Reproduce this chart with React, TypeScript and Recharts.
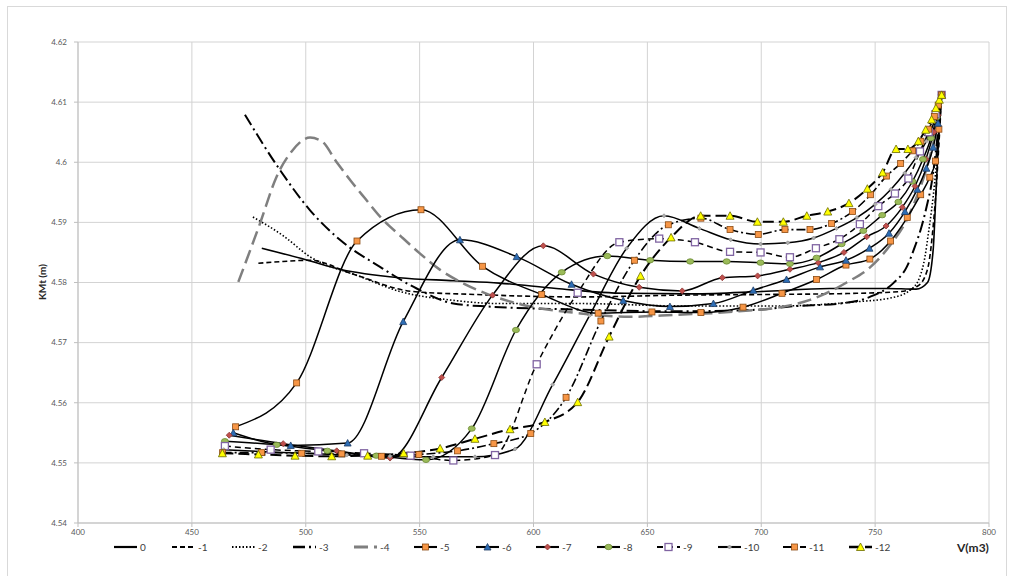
import React from "react";
import { LineChart, Line, XAxis, YAxis, CartesianGrid } from "recharts";

type Pt = [number, number];

// [V (m3), KMt (m)], one list per trim
const s0: Pt[] = [
  [480.7, 4.5857], [500, 4.5838], [515, 4.5822], [541, 4.5808], [565, 4.5803], [585, 4.5799],
  [610, 4.579], [640, 4.5782], [670, 4.5781], [700, 4.5785], [730, 4.579], [755, 4.579],
  [768, 4.5789], [773, 4.58], [775.5, 4.5855], [776.5, 4.593], [777.8, 4.6035], [779.2, 4.6112],
];
const s1: Pt[] = [
  [479.2, 4.5832], [490, 4.5835], [502, 4.5837], [520, 4.5815], [547, 4.5785], [575, 4.578],
  [620, 4.5776], [665, 4.5779], [700, 4.578], [742, 4.5782], [761, 4.5785], [768.2, 4.5793],
  [771.9, 4.581], [773.8, 4.5837], [775.2, 4.5882], [776.5, 4.594], [778, 4.603], [779.2, 4.6112],
];
const s2: Pt[] = [
  [476.8, 4.5909], [490, 4.5878], [501.8, 4.5843], [523.8, 4.581], [541.4, 4.5785], [563.3, 4.5771],
  [585, 4.5765], [620, 4.5765], [665, 4.5761], [708, 4.5761], [742, 4.5768], [756.5, 4.5774],
  [765.3, 4.5787], [769.7, 4.581], [771.9, 4.5843], [773.4, 4.5882], [774.8, 4.5921], [776.5, 4.598],
  [778, 4.605], [779.2, 4.6112],
];
const s3: Pt[] = [
  [473.3, 4.6079], [488.7, 4.5987], [501.9, 4.592], [515, 4.5871], [532.6, 4.5826], [548.7, 4.579],
  [564.8, 4.5765], [580, 4.576], [620, 4.5755], [660, 4.5752], [700, 4.5755], [712.6, 4.576],
  [734.6, 4.5765], [747.7, 4.5776], [758, 4.5799], [763.9, 4.5826], [767.5, 4.586], [770.4, 4.5893],
  [772.6, 4.5926], [775, 4.597], [777.3, 4.604], [779.2, 4.6112],
];
const s4: Pt[] = [
  [470.4, 4.5801], [479.9, 4.5898], [487.2, 4.5976], [493.8, 4.6018], [501.9, 4.6041], [507, 4.6035],
  [513.6, 4.6], [520, 4.5968], [526, 4.594], [533, 4.5908], [542, 4.5876], [549, 4.5852],
  [559, 4.5821], [570, 4.5797], [579, 4.5782], [595, 4.5763], [617.5, 4.575], [642.4, 4.5743],
  [661.4, 4.5746], [690, 4.5752], [710, 4.576], [721.4, 4.5771], [737.5, 4.58], [748, 4.5826],
  [757, 4.5864], [764, 4.5905], [769, 4.595], [773, 4.5995], [776, 4.604], [778, 4.608], [779.2, 4.6112],
];
const s5: Pt[] = [
  [469.2, 4.556], [496, 4.5633], [522.5, 4.5869], [550.6, 4.5921], [577.6, 4.5827], [603.6, 4.578],
  [628.4, 4.5749], [652, 4.5751], [673.5, 4.575], [692, 4.5759], [709.1, 4.5782], [724.3, 4.5805],
  [737.2, 4.5829], [747.7, 4.5839], [756.8, 4.5869], [764.1, 4.5908], [770, 4.5946], [774, 4.5975],
  [776.5, 4.6002], [778, 4.6055], [779.2, 4.6112],
];
const s6: Pt[] = [
  [468.2, 4.555], [493.4, 4.5529], [518.4, 4.5533], [542.8, 4.5735], [567.7, 4.5871], [592.6, 4.5843],
  [616.7, 4.5797], [639.4, 4.577], [659.9, 4.576], [679, 4.5765], [696.5, 4.5787], [711.1, 4.5805],
  [725.8, 4.5826], [737.2, 4.5837], [747.5, 4.5857], [756.1, 4.5882], [763.1, 4.5918], [768.5, 4.5955],
  [772.5, 4.599], [775.5, 4.6025], [777.6, 4.6065], [779.2, 4.6112],
];
const s7: Pt[] = [
  [466.4, 4.5546], [490.1, 4.5532], [513.6, 4.552], [537, 4.5508], [559.7, 4.5642], [582, 4.5779],
  [604.3, 4.5861], [626.3, 4.5814], [646.4, 4.5792], [665.3, 4.5786], [682.9, 4.5808], [698.4, 4.5811],
  [712.6, 4.5822], [725, 4.5833], [736.3, 4.585], [746.3, 4.5876], [754.8, 4.5894], [761.9, 4.5925],
  [767.5, 4.596], [772.3, 4.6005], [775.8, 4.605], [777.6, 4.6078], [779.2, 4.6112],
];
const s8: Pt[] = [
  [464.5, 4.5536], [487.2, 4.553], [509.5, 4.552], [531, 4.5512], [552.8, 4.5505], [572.9, 4.5557],
  [592.3, 4.5721], [612.4, 4.5817], [632.4, 4.5844], [651.2, 4.5837], [668.8, 4.5835], [684.8, 4.5835],
  [699.7, 4.5833], [712.6, 4.5831], [724.3, 4.5841], [735.3, 4.5864], [744.8, 4.5886], [753.1, 4.5912],
  [760.2, 4.5934], [766.4, 4.5968], [771, 4.6005], [774.5, 4.604], [777, 4.6075], [779.2, 4.6112],
];
const s9: Pt[] = [
  [464.5, 4.5528], [484.6, 4.5522], [505.5, 4.5519], [525.6, 4.5516], [546, 4.5512], [564.8, 4.5504],
  [583.1, 4.5513], [601.4, 4.5664], [619.4, 4.5783], [637.7, 4.5867], [655.2, 4.5873], [670.9, 4.5867],
  [686.3, 4.5851], [699.7, 4.585], [712.6, 4.5842], [724, 4.5857], [734.3, 4.5872], [743.3, 4.5897],
  [751.4, 4.5927], [758.7, 4.5948], [764.6, 4.5973], [769.7, 4.6018], [773.5, 4.605], [776.5, 4.608],
  [779.2, 4.6112],
];
const s10: Pt[] = [
  [464, 4.5522], [480, 4.5519], [499, 4.5516], [518, 4.5513], [537, 4.5511], [556, 4.551],
  [574.3, 4.551], [591.9, 4.5523], [608.4, 4.563], [624.6, 4.5745], [640.9, 4.5857], [657.3, 4.5911],
  [672.8, 4.589], [686.6, 4.5871], [699.7, 4.5864], [711.6, 4.5866], [723, 4.5874], [733, 4.589],
  [742, 4.5908], [750, 4.593], [757, 4.5955], [763, 4.5982], [768, 4.6008], [772.5, 4.6035],
  [776, 4.6068], [778.3, 4.6095], [779.2, 4.6112],
];
const s11: Pt[] = [
  [463.5, 4.5517], [480.6, 4.5517], [498.2, 4.5516], [515.8, 4.5515], [533.3, 4.5511], [549.7, 4.5514],
  [566.6, 4.552], [582.6, 4.5532], [598.8, 4.5549], [614.3, 4.5609], [629.6, 4.5736], [644.3, 4.5837],
  [659.2, 4.5896], [673.5, 4.5907], [686.3, 4.5888], [698.7, 4.588], [710.4, 4.5888], [721.4, 4.5888],
  [730.9, 4.5898], [740.1, 4.5918], [748, 4.5946], [755, 4.5977], [761.2, 4.5998], [766.4, 4.6019],
  [770.1, 4.6035], [773.5, 4.6055], [776, 4.6076], [777.7, 4.6095], [779.2, 4.6112],
];
const s12: Pt[] = [
  [463.4, 4.5516], [479.2, 4.5514], [495.3, 4.5512], [511.4, 4.5511], [527.2, 4.5512], [543, 4.5516],
  [559, 4.5524], [574.3, 4.554], [589.7, 4.5556], [605, 4.5568], [619.4, 4.5601], [633.2, 4.571],
  [647, 4.5811], [660.4, 4.5875], [673.4, 4.5911], [686.3, 4.5911], [698.3, 4.5901], [709.7, 4.5901],
  [720, 4.5911], [729.2, 4.5918], [738.5, 4.5932], [746.6, 4.5956], [753.3, 4.5983], [759.2, 4.6022],
  [764.4, 4.6022], [769, 4.6035], [772.2, 4.6054], [774.8, 4.6071], [776.7, 4.609], [778.2, 4.6104],
  [779.2, 4.6112],
];

const xTicks = [400, 450, 500, 550, 600, 650, 700, 750, 800];
const yTicks = [4.54, 4.55, 4.56, 4.57, 4.58, 4.59, 4.6, 4.61, 4.62];

type Marker = "none" | "square" | "openSquare" | "triangle" | "diamond" | "circle";

interface SeriesDef {
  name: string;
  points: Pt[];
  color: string;
  width: number;
  dash?: string;
  marker: Marker;
  fill?: string;
  stroke?: string;
  size?: number;
}

const series: SeriesDef[] = [
  { name: "0", points: s0, color: "#000", width: 1.6, marker: "none" },
  { name: "-1", points: s1, color: "#000", width: 1.6, dash: "5 3", marker: "none" },
  { name: "-2", points: s2, color: "#000", width: 1.6, dash: "1.5 2", marker: "none" },
  { name: "-3", points: s3, color: "#000", width: 2, dash: "12 4 2 4", marker: "none" },
  { name: "-4", points: s4, color: "#7f7f7f", width: 2.5, dash: "14 6", marker: "none" },
  { name: "-5", points: s5, color: "#000", width: 1.5, marker: "square", fill: "#f79646", stroke: "#8a4a12", size: 6 },
  { name: "-6", points: s6, color: "#000", width: 1.5, marker: "triangle", fill: "#2d6db5", stroke: "#1f3d66", size: 6 },
  { name: "-7", points: s7, color: "#000", width: 1.5, marker: "diamond", fill: "#c0504d", stroke: "#8c3331", size: 6 },
  { name: "-8", points: s8, color: "#000", width: 1.5, marker: "circle", fill: "#9bbb59", stroke: "#6b8a33", size: 6 },
  { name: "-9", points: s9, color: "#000", width: 1.5, dash: "6 4", marker: "openSquare", fill: "#fff", stroke: "#8064a2", size: 7 },
  { name: "-10", points: s10, color: "#000", width: 1.5, marker: "diamond", fill: "#b0b0b0", stroke: "#909090", size: 4 },
  { name: "-11", points: s11, color: "#000", width: 1.6, dash: "9 3 2 3", marker: "square", fill: "#f79646", stroke: "#8a4a12", size: 6 },
  { name: "-12", points: s12, color: "#000", width: 2, dash: "11 5", marker: "triangle", fill: "#ffff00", stroke: "#6b6b00", size: 7 },
];

const legendLeft = [114, 172, 232, 293, 354, 414, 476, 536, 597, 657, 718, 783, 849];

function MarkerShape({ cx, cy, s }: { cx: number; cy: number; s: SeriesDef }) {
  const z = s.size ?? 6;
  const h = z / 2;
  const common = { fill: s.fill, stroke: s.stroke, strokeWidth: 0.8 };
  switch (s.marker) {
    case "square":
      return <rect x={cx - h} y={cy - h} width={z} height={z} {...common} />;
    case "openSquare":
      return <rect x={cx - h} y={cy - h} width={z} height={z} fill="#fff" stroke={s.stroke} strokeWidth={1.3} />;
    case "triangle":
      return <path d={`M${cx},${cy - h - 0.5}L${cx + h + 0.5},${cy + h}L${cx - h - 0.5},${cy + h}Z`} {...common} />;
    case "diamond":
      return <path d={`M${cx},${cy - h}L${cx + h},${cy}L${cx},${cy + h}L${cx - h},${cy}Z`} {...common} />;
    case "circle":
      return <ellipse cx={cx} cy={cy} rx={h + 0.5} ry={h - 0.3} {...common} />;
    default:
      return null;
  }
}

function LegendItem({ s, left }: { s: SeriesDef; left: number }) {
  return (
    <div style={{ position: "absolute", left, top: 540, display: "flex", alignItems: "center", height: 14 }}>
      <svg width={23} height={12}>
        <line x1={0} y1={6} x2={23} y2={6} stroke={s.color} strokeWidth={s.width + 0.6} strokeDasharray={s.dash} />
        {s.marker !== "none" && <MarkerShape cx={11.5} cy={6} s={s} />}
      </svg>
      <span style={{ marginLeft: 3, fontSize: 10, color: "#404040" }}>{s.name}</span>
    </div>
  );
}

export default function App() {
  return (
    <div
      style={{
        position: "absolute",
        left: 0,
        top: 0,
        width: 1013,
        height: 576,
        background: "#fff",
        overflow: "hidden",
        fontFamily: "Lato, 'Open Sans', sans-serif",
      }}
    >
      <div style={{ position: "absolute", left: 7, top: 6, width: 998, height: 620, border: "1px solid #d9d9d9" }} />
      <LineChart width={1013} height={576} margin={{ top: 42, right: 24, bottom: 33, left: 0 }}>
        <CartesianGrid stroke="#d3d3d3" strokeWidth={1} />
        <XAxis
          dataKey="x"
          type="number"
          domain={[400, 800]}
          ticks={xTicks}
          height={20}
          tickSize={4}
          tickMargin={2}
          stroke="#bfbfbf"
          tick={{ fontSize: 8, fill: "#595959" }}
          allowDataOverflow
        />
        <YAxis
          type="number"
          domain={[4.54, 4.62]}
          ticks={yTicks}
          width={78}
          tickSize={4}
          tickMargin={7}
          stroke="#bfbfbf"
          tick={{ fontSize: 8, fill: "#595959" }}
          allowDataOverflow
        />
        {series.map((s) => (
          <Line
            key={s.name}
            data={s.points.map(([x, y]) => ({ x, y }))}
            dataKey="y"
            type="monotone"
            stroke={s.color}
            strokeWidth={s.width}
            strokeDasharray={s.dash}
            dot={
              s.marker === "none"
                ? false
                : (p: any) => <MarkerShape key={`${s.name}-${p.index}`} cx={p.cx} cy={p.cy} s={s} />
            }
            activeDot={false}
            isAnimationActive={false}
          />
        ))}
      </LineChart>
      <div
        style={{
          position: "absolute",
          left: 42,
          top: 282,
          transform: "translate(-50%, -50%) rotate(-90deg)",
          fontSize: 10,
          fontWeight: 700,
          color: "#262626",
          whiteSpace: "nowrap",
        }}
      >
        KMt (m)
      </div>
      {series.map((s, i) => (
        <LegendItem key={s.name} s={s} left={legendLeft[i]} />
      ))}
      <div style={{ position: "absolute", left: 957, top: 540, fontSize: 12, fontWeight: 700, color: "#262626" }}>
        V(m3)
      </div>
    </div>
  );
}
